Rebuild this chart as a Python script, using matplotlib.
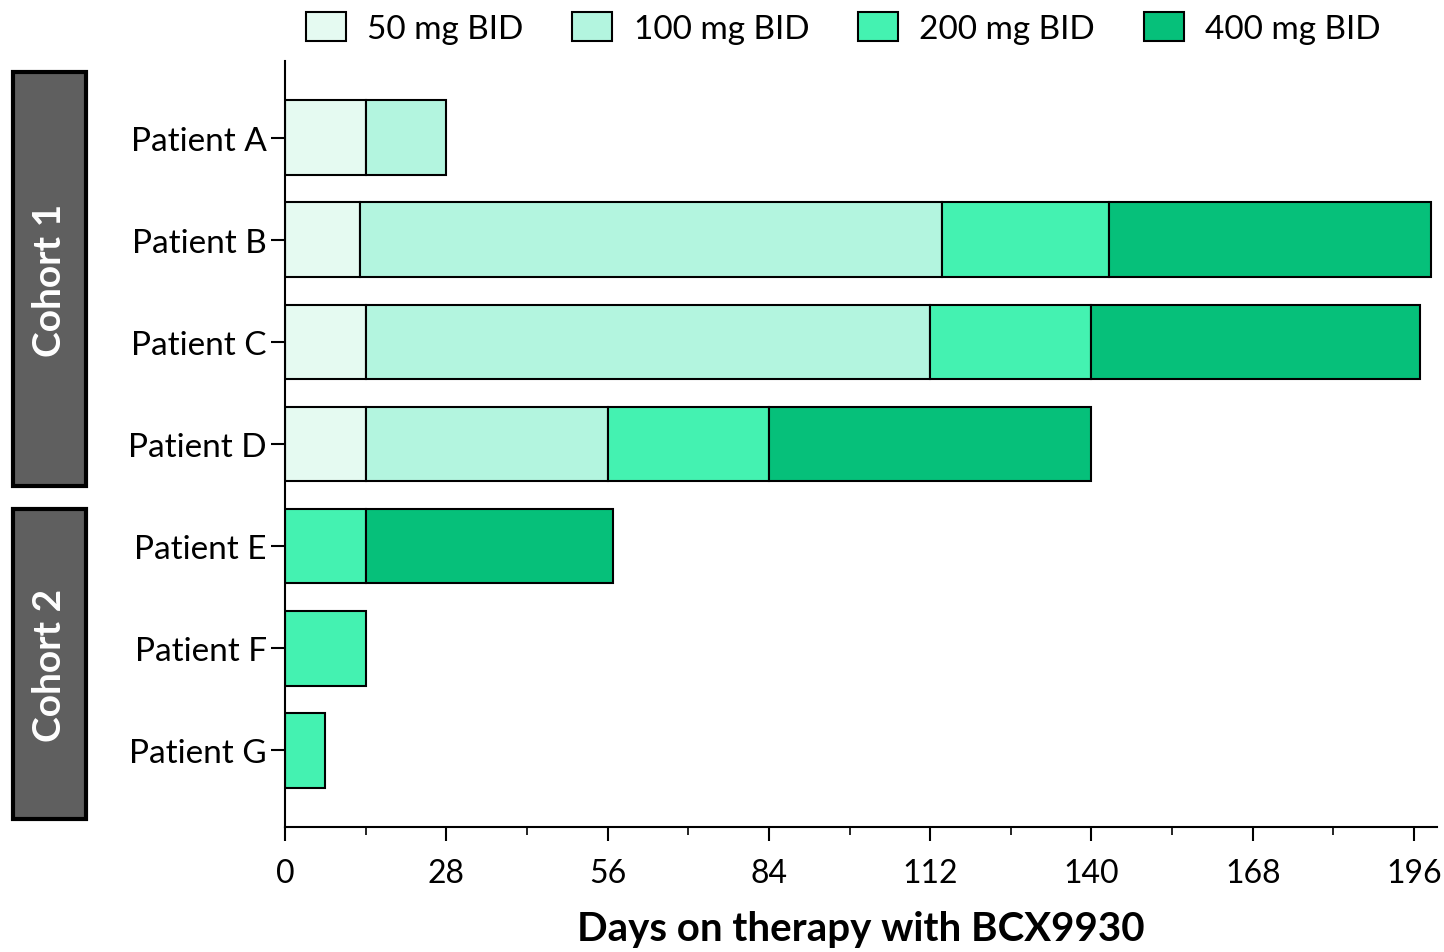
import matplotlib.pyplot as plt
from matplotlib.patches import Rectangle, Patch

plt.rcParams['font.family'] = ['Lato', 'DejaVu Sans']

# Data (days on each dose level)
patients = ['Patient A', 'Patient B', 'Patient C', 'Patient D', 'Patient E', 'Patient F', 'Patient G']
dose_50 = [14, 13, 14, 14, 0, 0, 0]
dose_100 = [14, 101, 98, 42, 0, 0, 0]
dose_200 = [0, 29, 28, 28, 14, 14, 7]
dose_400 = [0, 56, 57, 56, 43, 0, 0]
dose_labels = ['50 mg BID', '100 mg BID', '200 mg BID', '400 mg BID']
colors = ['#e5faf1', '#b3f5df', '#44f2b1', '#06c07a']
cohorts = ['Cohort 1', 'Cohort 2']
x_ticks = [0, 28, 56, 84, 112, 140, 168, 196]

fig = plt.figure(figsize=(14.44, 9.53), dpi=100)
ax = fig.add_axes([0.1974, 0.1312, 0.7978, 0.8038])

ypos = list(range(len(patients)))[::-1]
left = [0] * len(patients)
for vals, col, lab in zip([dose_50, dose_100, dose_200, dose_400], colors, dose_labels):
    for y, l, v in zip(ypos, left, vals):
        if v > 0:
            ax.barh(y, v, left=l, height=0.73, color=col, edgecolor='black', linewidth=1.5)
    left = [l + v for l, v in zip(left, vals)]

ax.set_ylim(-0.75, 6.75)
ax.set_xlim(0, 200)
ax.set_yticks(ypos)
ax.set_yticklabels(patients, fontsize=24)
ax.set_xticks(x_ticks)
ax.set_xticklabels([str(t) for t in x_ticks], fontsize=23)
ax.set_xticks(range(14, 200, 28), minor=True)
ax.tick_params(axis='x', which='major', length=10, width=1.5, pad=12)
ax.tick_params(axis='x', which='minor', length=6, width=1.2)
ax.tick_params(axis='y', length=10, width=1.5, pad=3)
for s in ['top', 'right']:
    ax.spines[s].set_visible(False)
for s in ['left', 'bottom']:
    ax.spines[s].set_linewidth(1.5)
ax.set_xlabel('Days on therapy with BCX9930', fontsize=29, fontweight='bold', labelpad=16)

# Cohort boxes
box_specs = [(1 - 487 / 953, (487 - 73) / 953), (1 - 820 / 953, (820 - 510) / 953)]
for name, (y0, h) in zip(cohorts, box_specs):
    fig.patches.append(Rectangle((13 / 1444, y0), 73 / 1444, h, transform=fig.transFigure,
                                 facecolor='#5f5f5f', edgecolor='black', linewidth=3))
    fig.text(49.5 / 1444, y0 + h / 2, name, rotation=90, color='white', fontsize=28,
             fontweight='bold', ha='center', va='center')

# Legend
handles = [Patch(facecolor=c, edgecolor='black', linewidth=1.5) for c in colors]
fig.legend(handles, dose_labels, loc='upper center', bbox_to_anchor=(0.584, 1.018), ncol=4,
           frameon=False, fontsize=24, handlelength=1.2, handleheight=0.95,
           handletextpad=0.65, columnspacing=1.45)

fig.savefig('out.png', dpi=100)
